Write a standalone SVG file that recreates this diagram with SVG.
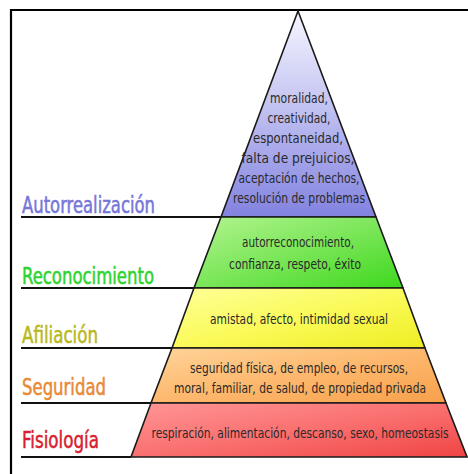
<svg xmlns="http://www.w3.org/2000/svg" width="468" height="474" viewBox="0 0 468 474">
<defs>
<linearGradient id="gBlue" x1="0" y1="0" x2="0" y2="1">
<stop offset="0" stop-color="#f6f6ff"/><stop offset="0.45" stop-color="#c4c4f2"/><stop offset="1" stop-color="#8282e0"/>
</linearGradient>
<linearGradient id="gGreen" x1="0" y1="0" x2="1" y2="1">
<stop offset="0" stop-color="#b4f490"/><stop offset="0.5" stop-color="#7ae658"/><stop offset="1" stop-color="#3ed81e"/>
</linearGradient>
<linearGradient id="gYellow" x1="0" y1="0" x2="1" y2="1">
<stop offset="0" stop-color="#ffff9a"/><stop offset="0.5" stop-color="#fafa5a"/><stop offset="1" stop-color="#eeee22"/>
</linearGradient>
<linearGradient id="gOrange" x1="0" y1="0" x2="1" y2="1">
<stop offset="0" stop-color="#ffd49a"/><stop offset="0.5" stop-color="#fdb86e"/><stop offset="1" stop-color="#f7a04a"/>
</linearGradient>
<linearGradient id="gRed" x1="0" y1="0" x2="1" y2="1">
<stop offset="0" stop-color="#ff9696"/><stop offset="0.5" stop-color="#fa7070"/><stop offset="1" stop-color="#f04444"/>
</linearGradient>
</defs>
<style>
.band{stroke:#1a1a1a;stroke-width:1.6;stroke-linejoin:miter}
.rule{stroke:#111;stroke-width:2.2;fill:none}
.lbl{font-family:"DejaVu Sans Condensed","DejaVu Sans",sans-serif;font-size:22.5px;stroke-width:0.5}
.txt{font-family:"DejaVu Sans Condensed","DejaVu Sans",sans-serif;font-size:13.5px;fill:#2a2a2a;text-anchor:middle}
</style>
<rect x="0" y="0" width="468" height="474" fill="#ffffff"/>
<g id="frame">
<path d="M11 474 V10 H468" fill="none" stroke="#000" stroke-width="2.2"/>
</g>
<g id="connectors">
<line class="rule" x1="21" y1="217" x2="221" y2="217"/>
<line class="rule" x1="21" y1="288" x2="194" y2="288"/>
<line class="rule" x1="21" y1="348" x2="172" y2="348"/>
<line class="rule" x1="21" y1="403" x2="151" y2="403"/>
<line class="rule" x1="21" y1="457" x2="131" y2="457"/>
</g>
<g id="autorrealizacion">
<polygon class="band" fill="url(#gBlue)" points="298,11 376,217 221,217"/>
<text class="lbl" x="22" y="213" fill="#7676d8" stroke="#7676d8" textLength="133" lengthAdjust="spacingAndGlyphs">Autorrealización</text>
<text class="txt" x="299" y="103" textLength="58" lengthAdjust="spacingAndGlyphs">moralidad,</text>
<text class="txt" x="299" y="123" textLength="63" lengthAdjust="spacingAndGlyphs">creatividad,</text>
<text class="txt" x="298" y="143" textLength="90" lengthAdjust="spacingAndGlyphs">espontaneidad,</text>
<text class="txt" x="298" y="163" textLength="113" lengthAdjust="spacingAndGlyphs">falta de prejuicios,</text>
<text class="txt" x="299" y="183" textLength="121" lengthAdjust="spacingAndGlyphs">aceptación de hechos,</text>
<text class="txt" x="299" y="203" textLength="132" lengthAdjust="spacingAndGlyphs">resolución de problemas</text>
</g>
<g id="reconocimiento">
<polygon class="band" fill="url(#gGreen)" points="221,217 376,217 403,288 194,288"/>
<text class="lbl" x="22" y="284" fill="#2ed42e" stroke="#2ed42e" textLength="132" lengthAdjust="spacingAndGlyphs">Reconocimiento</text>
<text class="txt" x="298" y="247" textLength="112" lengthAdjust="spacingAndGlyphs">autorreconocimiento,</text>
<text class="txt" x="295" y="269" textLength="132" lengthAdjust="spacingAndGlyphs">confianza, respeto, éxito</text>
</g>
<g id="afiliacion">
<polygon class="band" fill="url(#gYellow)" points="194,288 403,288 425,348 172,348"/>
<text class="lbl" x="22" y="343" fill="#b8b81e" stroke="#b8b81e" textLength="76" lengthAdjust="spacingAndGlyphs">Afiliación</text>
<text class="txt" x="299" y="324" textLength="178" lengthAdjust="spacingAndGlyphs">amistad, afecto, intimidad sexual</text>
</g>
<g id="seguridad">
<polygon class="band" fill="url(#gOrange)" points="172,348 425,348 446,403 151,403"/>
<text class="lbl" x="22" y="395" fill="#e88a36" stroke="#e88a36" textLength="84" lengthAdjust="spacingAndGlyphs">Seguridad</text>
<text class="txt" x="299" y="373" textLength="218" lengthAdjust="spacingAndGlyphs">seguridad física, de empleo, de recursos,</text>
<text class="txt" x="300" y="393" textLength="252" lengthAdjust="spacingAndGlyphs">moral, familiar, de salud, de propiedad privada</text>
</g>
<g id="fisiologia">
<polygon class="band" fill="url(#gRed)" points="151,403 446,403 467,457 131,457"/>
<text class="lbl" x="22" y="448" fill="#d8202e" stroke="#d8202e" textLength="77" lengthAdjust="spacingAndGlyphs">Fisiología</text>
<text class="txt" x="300" y="438" textLength="297" lengthAdjust="spacingAndGlyphs">respiración, alimentación, descanso, sexo, homeostasis</text>
</g>
</svg>
